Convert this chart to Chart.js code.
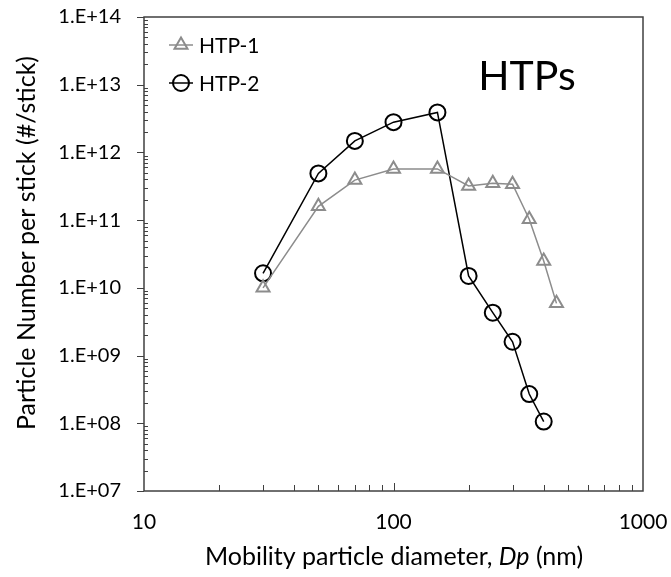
<!DOCTYPE html>
<html>
<head>
<meta charset="utf-8">
<script src="https://cdn.jsdelivr.net/npm/chart.js@4.4.1/dist/chart.umd.min.js"></script>
<style>
html, body { margin: 0; padding: 0; background: #fff; }
</style>
</head>
<body>
<canvas id="chart" width="671" height="577"></canvas>
<script>
// data
const htp1Diameters = [30, 50, 70, 100, 150, 200, 250, 300, 350, 400, 450];
const htp1Values = [1.0e10, 1.6e11, 3.9e11, 5.7e11, 5.7e11, 3.2e11, 3.5e11, 3.4e11, 1.03e11, 2.5e10, 5.9e9];
const htp2Diameters = [30, 50, 70, 100, 150, 200, 250, 300, 350, 400];
const htp2Values = [1.64e10, 4.9e11, 1.48e12, 2.8e12, 3.9e12, 1.5e10, 4.3e9, 1.6e9, 2.7e8, 1.06e8];
const xTickValues = [10, 100, 1000];
const yTickValues = [1e7, 1e8, 1e9, 1e10, 1e11, 1e12, 1e13, 1e14];
const seriesNames = ['HTP-1', 'HTP-2'];

const FONT = 'Lato, "Open Sans", sans-serif';
const GRAY = '#8c8c8c';
const AXIS = '#404040';

const toPoints = (xs, ys) => xs.map((x, i) => ({ x: x, y: ys[i] }));

// chart area should not be pushed in by half-label overflow
const noPad = s => { s.paddingTop = 0; s.paddingBottom = 0; s.paddingLeft = 0; s.paddingRight = 0; };

const decorations = {
    id: 'decorations',
    afterDraw(chart) {
        const ctx = chart.ctx;
        const area = chart.chartArea;
        const xs = chart.scales.x;
        const ys = chart.scales.y;
        ctx.save();

        // frame
        ctx.strokeStyle = AXIS;
        ctx.lineWidth = 1.5;
        ctx.strokeRect(area.left, area.top, area.right - area.left, area.bottom - area.top);

        // x ticks (inside)
        ctx.lineWidth = 1;
        for (let d = 10; d < 1000; d *= 10) {
            for (let m = 1; m < 10; m++) {
                const v = d * m;
                if (v === 10) continue;
                const px = Math.round(xs.getPixelForValue(v)) + 0.5;
                const len = m === 1 ? 8 : 6;
                ctx.beginPath();
                ctx.moveTo(px, area.bottom);
                ctx.lineTo(px, area.bottom - len);
                ctx.stroke();
            }
        }
        // y ticks: minor inside, major outside
        for (let e = 7; e < 14; e++) {
            for (let m = 2; m < 10; m++) {
                const py = Math.round(ys.getPixelForValue(m * Math.pow(10, e))) + 0.5;
                ctx.beginPath();
                ctx.moveTo(area.left, py);
                ctx.lineTo(area.left + 4, py);
                ctx.stroke();
            }
        }
        yTickValues.forEach(v => {
            const py = Math.round(ys.getPixelForValue(v)) + 0.5;
            ctx.beginPath();
            ctx.moveTo(area.left - 7, py);
            ctx.lineTo(area.left, py);
            ctx.stroke();
        });

        // legend
        const sets = chart.data.datasets;
        [45, 83].forEach((ly, i) => {
            const ds = sets[i];
            ctx.strokeStyle = ds.borderColor;
            ctx.lineWidth = 1.5;
            ctx.beginPath();
            ctx.moveTo(169, ly);
            ctx.lineTo(193, ly);
            ctx.stroke();
            ctx.fillStyle = 'rgba(0,0,0,0)';
            ctx.lineWidth = 2;
            Chart.helpers.drawPoint(ctx, { pointStyle: ds.pointStyle, radius: ds.pointRadius, borderWidth: 2, rotation: 0 }, 181, ly);
            ctx.fillStyle = '#000';
            ctx.font = '21px ' + FONT;
            ctx.textBaseline = 'middle';
            ctx.textAlign = 'left';
            ctx.fillText(seriesNames[i], 199, ly + 1);
        });

        // big label
        ctx.font = '41px ' + FONT;
        ctx.textAlign = 'center';
        ctx.fillText('HTPs', 527, 77);

        // x title with italic Dp
        const tf = '25px ' + FONT;
        ctx.font = tf;
        ctx.textBaseline = 'middle';
        ctx.textAlign = 'left';
        const p1 = 'Mobility particle diameter, ';
        const p3 = ' (nm)';
        const w1 = ctx.measureText(p1).width;
        const w3 = ctx.measureText(p3).width;
        ctx.font = 'italic ' + tf;
        const w2 = ctx.measureText('Dp').width;
        const tx = 394 - (w1 + w2 + w3) / 2;
        const ty = 557;
        ctx.font = tf;
        ctx.fillText(p1, tx, ty);
        ctx.font = 'italic ' + tf;
        ctx.fillText('Dp', tx + w1, ty);
        ctx.font = tf;
        ctx.fillText(p3, tx + w1 + w2, ty);

        // y title
        ctx.translate(27, 243);
        ctx.rotate(-Math.PI / 2);
        ctx.textAlign = 'center';
        ctx.font = tf;
        ctx.fillText('Particle Number per stick (#/stick)', 0, 0);

        ctx.restore();
    }
};

const ctx = document.getElementById('chart').getContext('2d');
const chart = new Chart(ctx, {
    type: 'scatter',
    data: {
        datasets: [{
            label: seriesNames[0],
            data: toPoints(htp1Diameters, htp1Values),
            showLine: true,
            borderColor: GRAY,
            borderWidth: 1.5,
            backgroundColor: 'rgba(0,0,0,0)',
            pointStyle: 'triangle',
            pointRadius: 7.5,
            pointBorderWidth: 2,
            pointBorderColor: GRAY
        }, {
            label: seriesNames[1],
            data: toPoints(htp2Diameters, htp2Values),
            showLine: true,
            borderColor: '#000',
            borderWidth: 1.5,
            backgroundColor: 'rgba(0,0,0,0)',
            pointStyle: 'circle',
            pointRadius: 8,
            pointBorderWidth: 2,
            pointBorderColor: '#000'
        }]
    },
    options: {
        responsive: false,
        animation: false,
        devicePixelRatio: 1,
        layout: { padding: { top: 17, right: 28, left: 0, bottom: 0 } },
        plugins: { legend: { display: false }, tooltip: { enabled: false } },
        scales: {
            x: {
                type: 'logarithmic',
                min: 10,
                max: 1000,
                afterBuildTicks: s => { s.ticks = xTickValues.map(v => ({ value: v })); },
                afterFit: s => { s.height = 86; noPad(s); },
                grid: { display: false, drawTicks: false },
                border: { display: false },
                ticks: {
                    color: '#000',
                    font: { family: FONT, size: 21 },
                    padding: 19,
                    maxRotation: 0,
                    callback: v => String(v)
                }
            },
            y: {
                type: 'logarithmic',
                min: 1e7,
                max: 1e14,
                afterBuildTicks: s => { s.ticks = yTickValues.map(v => ({ value: v })); },
                afterFit: s => { s.width = 144; noPad(s); },
                grid: { display: false, drawTicks: false },
                border: { display: false },
                ticks: {
                    color: '#000',
                    font: { family: FONT, size: 20 },
                    padding: 23,
                    callback: v => '1.E+' + String(Math.round(Math.log10(v))).padStart(2, '0')
                }
            }
        }
    },
    plugins: [decorations]
});
</script>
</body>
</html>
